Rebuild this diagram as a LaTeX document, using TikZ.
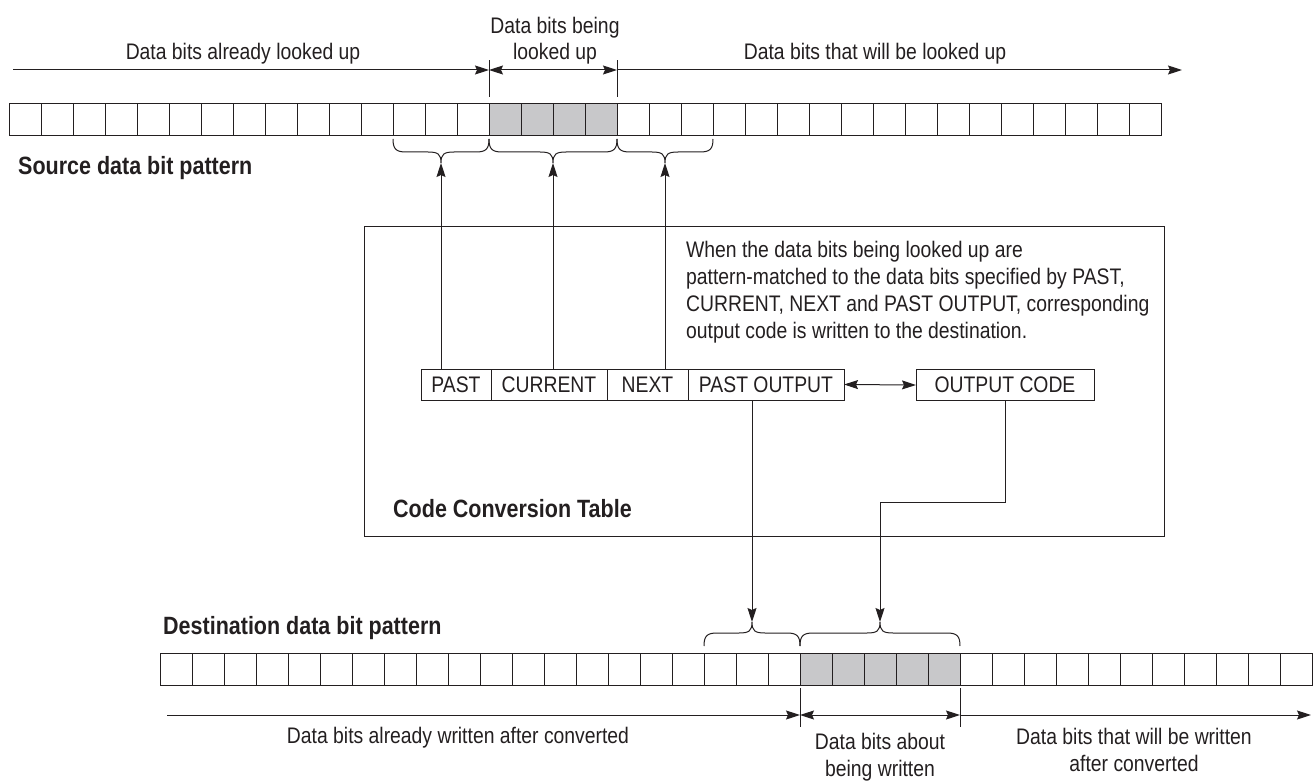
\documentclass[tikz,border=0pt]{standalone}
\usepackage{fontspec}
\setmainfont{Liberation Sans}[FakeStretch=0.86]
\usetikzlibrary{arrows.meta}
\definecolor{ink}{HTML}{231F20}
\definecolor{bitgray}{HTML}{C8C8CA}
\newcommand{\bitbrace}[4]{%
  \pgfmathsetmacro{\bxm}{(#1+#2)/2}%
  \draw[brc] (#1,#3) .. controls (#1,{#3+#4*10}) and ({#1+3},{#3+#4*13}) .. ({#1+13},{#3+#4*13})
    -- ({\bxm-13},{#3+#4*13}) .. controls ({\bxm-3},{#3+#4*13}) and (\bxm,{#3+#4*15}) .. (\bxm,{#3+#4*24})
    .. controls (\bxm,{#3+#4*15}) and ({\bxm+3},{#3+#4*13}) .. ({\bxm+13},{#3+#4*13})
    -- ({#2-13},{#3+#4*13}) .. controls ({#2-3},{#3+#4*13}) and (#2,{#3+#4*10}) .. (#2,#3);}
\begin{document}
\begin{tikzpicture}[x=1pt,y=-1pt,
  line/.style={draw=ink, line width=1pt},
  cell/.style={draw=ink, line width=1pt, minimum width=32pt, minimum height=32pt,
    inner sep=0pt, outer sep=0pt, anchor=north west},
  lbl/.style={font=\fontsize{22.5}{26.5}\selectfont, text=ink, inner sep=0pt, align=center, anchor=base},
  title/.style={font=\fontsize{25}{30}\selectfont\bfseries, text=ink, inner sep=0pt, anchor=base west},
  tcell/.style={draw=ink, line width=1pt, minimum height=31pt, inner sep=0pt, outer sep=0pt,
    text=ink, font=\fontsize{22.5}{26.5}\selectfont},
  arr/.style={line, -{Stealth[length=14pt,width=9pt,inset=2pt]}},
  darr/.style={line, {Stealth[length=14pt,width=9pt,inset=2pt]}-{Stealth[length=14pt,width=9pt,inset=2pt]}},
  brc/.style={line}
]
\useasboundingbox (0,0) rectangle (1315,781);

% ---------- source row ----------
\foreach \i in {0,...,14,19,20,...,35} {\node[cell] (s\i) at ({9+32*\i},104) {};}
\foreach \i in {15,...,18} {\node[cell, fill=bitgray] (s\i) at ({9+32*\i},104) {};}

% ticks and arrows above source row
\coordinate (tA) at (489,60);
\coordinate (tB) at (617,60);
\draw[line] (s15.north west) ++(0,-7) -- (tA);
\draw[line] (s19.north west) ++(0,-7) -- (tB);
\coordinate (L0) at (13,70);
\coordinate (R0) at (1182,70);
\draw[arr] (L0) -- (L0 -| tA);
\draw[darr] (L0 -| tA) -- (L0 -| tB);
\draw[arr] (L0 -| tB) -- (R0);

\node[lbl] (t1) at (243,60) {Data bits already looked up};
\node[lbl] (t2) at (555,60) {Data bits being\\looked up};
\node[lbl] (t3) at (875,60) {Data bits that will be looked up};
\node[title] (src) at (18,175) {Source data bit pattern};

% braces under source row
\bitbrace{393}{489}{139}{1}
\bitbrace{489}{617}{139}{1}
\bitbrace{617}{713}{139}{1}
\coordinate (b1) at (441,163);
\coordinate (b2) at (553,163);
\coordinate (b3) at (665,163);

% ---------- code conversion table ----------
\node[draw=ink, line width=1pt, minimum width=800pt, minimum height=310pt, inner sep=0pt,
  outer sep=0pt, anchor=north west] (tbl) at (364,226) {};
\node[lbl, font=\fontsize{22.5}{27}\selectfont, align=left, anchor=base west] (desc) at (686,338)
  {When the data bits being looked up are\\
   pattern-matched to the data bits specified by PAST,\\
   CURRENT, NEXT and PAST OUTPUT, corresponding\\
   output code is written to the destination.};
\node[title] (ctt) at (393,517) {Code Conversion Table};

\node[tcell, minimum width=70pt]  (past) at (456,384.5) {PAST};
\node[tcell, minimum width=116pt] (cur)  at (549,384.5) {CURRENT};
\node[tcell, minimum width=81pt]  (nxt)  at (647.5,384.5) {NEXT};
\node[tcell, minimum width=156pt] (pout) at (766,384.5) {PAST OUTPUT};
\node[tcell, minimum width=178pt] (oc)   at (1005,385) {OUTPUT CODE};
\draw[darr] (pout.east) -- (oc.west);

\draw[arr] (past.north -| b1) -- (b1);
\draw[arr] (cur.north -| b2) -- (b2);
\draw[arr] (nxt.north -| b3) -- (b3);

% ---------- destination row ----------
\foreach \i in {0,...,19,25,26,...,35} {\node[cell] (d\i) at ({160+32*\i},653) {};}
\foreach \i in {20,...,24} {\node[cell, fill=bitgray] (d\i) at ({160+32*\i},653) {};}
\node[title] (dst) at (163,634) {Destination data bit pattern};

\bitbrace{704}{800}{646}{-1}
\bitbrace{800}{960}{646}{-1}
\coordinate (b4) at (752,622);
\coordinate (b5) at (880,622);

\draw[arr] (pout.south -| b4) -- (b4);
\draw[arr] (oc.south) -- ++(0,102) -| (b5);

% ticks and arrows below destination row
\coordinate (tC) at (800,727);
\coordinate (tD) at (960,727);
\draw[line] (d20.south west) ++(0,3) -- (tC);
\draw[line] (d25.south west) ++(0,3) -- (tD);
\coordinate (L1) at (167,715);
\coordinate (R1) at (1311,715);
\draw[arr] (L1) -- (L1 -| tC);
\draw[darr] (L1 -| tC) -- (L1 -| tD);
\draw[arr] (L1 -| tD) -- (R1);

\node[lbl] (t4) at (458,743) {Data bits already written after converted};
\node[lbl] (t5) at (880,776) {Data bits about\\being written};
\node[lbl] (t6) at (1134,771) {Data bits that will be written\\after converted};
\end{tikzpicture}
\end{document}
